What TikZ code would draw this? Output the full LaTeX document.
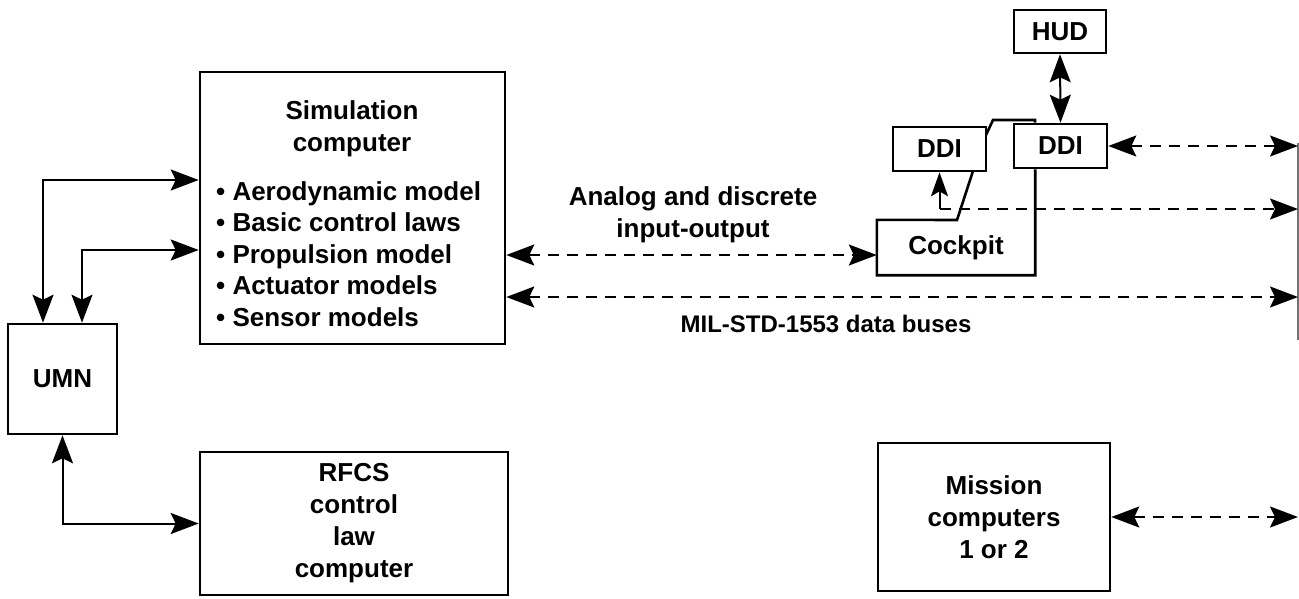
\documentclass[tikz,border=0pt]{standalone}
\usepackage{fontspec}
\setmainfont{Liberation Sans}
\usetikzlibrary{arrows.meta,calc}
\tikzset{
  lbl/.style={font=\fontsize{26}{31.5}\selectfont\bfseries, inner sep=0pt, align=center},
  box/.style={draw, line width=2.6pt, rectangle, inner sep=0pt, font=\fontsize{26}{32}\selectfont\bfseries, align=center},
  dbl/.style={line width=2pt, {Stealth[length=28pt,width=21pt,inset=5pt]}-{Stealth[length=28pt,width=21pt,inset=5pt]}},
  dbldash/.style={dbl, dash pattern=on 11pt off 8pt},
  onedash/.style={line width=2pt, -{Stealth[length=28pt,width=21pt,inset=5pt]}, dash pattern=on 11pt off 8pt},
  upline/.style={line width=2pt, -{Stealth[length=24pt,width=17pt,inset=5pt]}},
  outline/.style={line width=2.6pt, line join=miter},
  busline/.style={line width=1.2pt, black!55}
}
\begin{document}
\begin{tikzpicture}[x=1pt,y=-1pt]
\useasboundingbox (0,0) rectangle (1299,598);

% boxes
\node[box, minimum width=305pt, minimum height=272pt] (sim) at (352.5,208) {};
\node[lbl] (simtitle) at (352,129) {Simulation\\computer};
\node[lbl, align=left, anchor=west] (simlist) at (216,254)
  {• Aerodynamic model\\• Basic control laws\\• Propulsion model\\• Actuator models\\• Sensor models};
\node[box, minimum width=109pt, minimum height=110pt] (umn) at (62.5,379) {UMN};
\node[box, minimum width=308pt, minimum height=143pt] (rfcs) at (354,523.5) {RFCS\\control\\law\\computer};
\node[box, minimum width=232pt, minimum height=148pt] (mission) at (994,517) {Mission\\computers\\1 or 2};
\node[box, minimum width=92pt, minimum height=43pt] (hud) at (1060,31.5) {HUD};
\node[box, minimum width=93pt, minimum height=44pt] (ddiR) at (1060.5,146) {DDI};
\node[box, minimum width=93pt, minimum height=44pt] (ddiL) at (939.5,149) {DDI};
\node[lbl, minimum width=158pt, minimum height=55pt] (cockpit) at (956,247.5) {Cockpit};

% cockpit outline
\coordinate (c1) at (957,220);
\coordinate (c2) at (973,171);
\coordinate (c3) at (986,135);
\coordinate (c4) at (993,120);
\coordinate (c5) at (1035,120);
\draw[outline] (c2) -- (c1) -- (cockpit.north west) -- (cockpit.south west)
  -- (cockpit.south east) -- (cockpit.south east |- ddiR.south);
\draw[outline] (c3) -- (c4) -- (c5) -- (c5 |- ddiR.north);

% bus line on the right
\coordinate (busTop) at (1298,143);
\coordinate (busBot) at (1298,340);
\draw[busline] (busTop) -- (busBot);
\coordinate (b1) at (1298,146);
\coordinate (b2) at (1298,209);
\coordinate (b3) at (1298,297);

% UMN connections
\draw[dbl] ([xshift=-19.5pt]umn.north) |- ([yshift=28pt]sim.west);
\draw[dbl] ([xshift=19.5pt]umn.north) |- ([yshift=-42pt]sim.west);
\draw[dbl] (umn.south) |- (rfcs.west);

% analog I/O
\draw[dbldash] (sim.east |- 0,255) -- (cockpit.west |- 0,255);
\node[lbl] (analog) at (693,215) {Analog and discrete\\input-output};

% MIL-STD bus
\draw[dbldash] (sim.east |- b3) -- (b3);
\node[lbl, font=\fontsize{24}{28}\selectfont\bfseries, anchor=base] (mil) at (826,332) {MIL-STD-1553 data buses};

% cockpit / DDI connections
\coordinate (tap) at (ddiL.south |- b2);
\draw[onedash] (tap) -- (b2);
\draw[upline] (tap) -- (ddiL.south);
\draw[dbldash] (ddiR.east) -- (b1);
\draw[dbl] (hud.south) -- (ddiR.north);

% mission computers
\draw[dbldash] (mission.east) -- (mission.east -| b1);
\end{tikzpicture}
\end{document}
